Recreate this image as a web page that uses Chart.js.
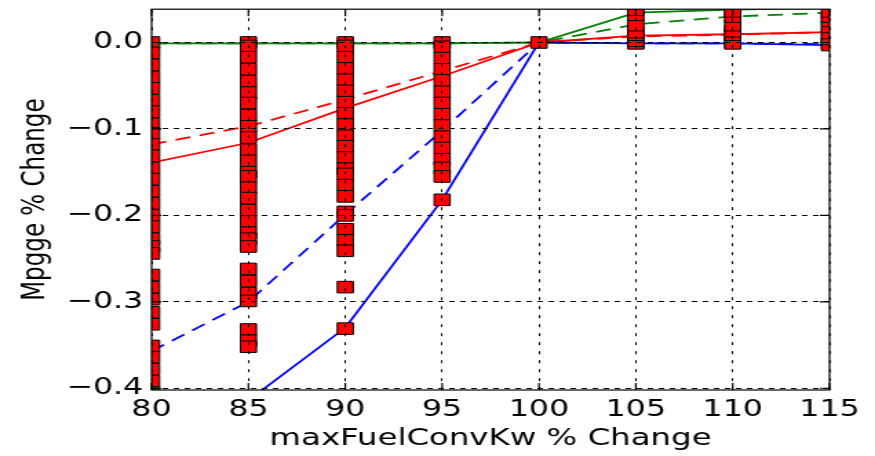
<!DOCTYPE html>
<html>
<head>
<meta charset="utf-8">
<script src="https://cdn.jsdelivr.net/npm/chart.js@4.4.0/dist/chart.umd.min.js"></script>
<style>
html,body{margin:0;padding:0;background:#fff;overflow:hidden;}
#wrap{width:635px;height:456px;transform:scaleX(1.37795);transform-origin:0 0;}
</style>
</head>
<body>
<div id="wrap"><canvas id="c" width="635" height="456"></canvas></div>
<script>
// ---- data ----
const xTickValues = [80, 85, 90, 95, 100, 105, 110, 115];
const yTickValues = [-0.4, -0.3, -0.2, -0.1, 0.0];

const lineX = [80, 85, 90, 95, 100, 105, 110, 115];
const blueSolid   = [-0.55, -0.414, -0.33, -0.182, 0.0, -0.001, -0.001, -0.003];
const blueDashed  = [-0.357, -0.30, -0.199, -0.102, 0.0, -0.001, -0.001, -0.002];
const redSolid    = [-0.139, -0.116, -0.076, -0.039, 0.0, 0.008, 0.0095, 0.012];
const redDashed   = [-0.118, -0.097, -0.066, -0.033, 0.0, 0.007, 0.009, 0.012];
const greenSolid  = [-0.001, -0.001, -0.001, -0.001, 0.0, 0.0345, 0.038, 0.040];
const greenDashed = [-0.001, -0.001, -0.001, -0.001, 0.0, 0.021, 0.030, 0.0345];

const markerX = [80, 85, 90, 95, 100, 105, 110, 115];
const m80 = [0.0, -0.012, -0.026, -0.04, -0.053, -0.067, -0.08, -0.094, -0.105, -0.118, -0.131,
             -0.145, -0.158, -0.172, -0.186, -0.2, -0.213, -0.227, -0.236, -0.244,
             -0.269, -0.283, -0.297, -0.312, -0.326,
             -0.351, -0.364, -0.378, -0.392, -0.405];
const m85 = [0.0, -0.004, -0.017, -0.031, -0.045, -0.058, -0.07, -0.084, -0.097, -0.11, -0.124,
             -0.137, -0.15, -0.155, -0.168, -0.18, -0.194, -0.207, -0.22, -0.227, -0.236,
             -0.262, -0.276, -0.29, -0.299, -0.332, -0.345, -0.352];
const m90 = [0.0, -0.004, -0.017, -0.03, -0.043, -0.056, -0.069, -0.082, -0.095, -0.108, -0.12,
             -0.133, -0.146, -0.152, -0.165, -0.178, -0.196, -0.2, -0.216, -0.229, -0.241,
             -0.283, -0.331];
const m95 = [0.0, -0.005, -0.018, -0.031, -0.044, -0.057, -0.07, -0.083, -0.096, -0.109, -0.122,
             -0.135, -0.145, -0.155, -0.182];
const m100 = [0.0];
const m105 = [0.0, -0.001, 0.002, 0.009, 0.012, 0.02, 0.032, 0.038];
const m110 = [0.0, -0.001, 0.009, 0.013, 0.02, 0.03, 0.036];
const m115 = [-0.001, -0.003, 0.004, 0.011, 0.018, 0.025, 0.03, 0.036];
const markerY = [m80, m85, m90, m95, m100, m105, m110, m115];

// ---- build ----
const toPts = (xs, ys) => xs.map((x, i) => ({x: x, y: ys[i]}));
const markerPts = [];
markerX.forEach((x, i) => markerY[i].forEach(y => markerPts.push({x: x, y: y})));

const lineDs = (label, ys, color, dash) => ({
  label: label,
  data: toPts(lineX, ys),
  showLine: true,
  borderColor: color,
  backgroundColor: color,
  borderWidth: 1.8,
  borderDash: dash,
  pointRadius: 0,
  pointHoverRadius: 0,
  clip: 0
});

const frameTicks = {
  id: 'frameTicks',
  afterDraw(chart) {
    const {ctx, chartArea: {left, right, top, bottom}, scales: {x, y}} = chart;
    ctx.save();
    ctx.strokeStyle = '#000';
    ctx.lineWidth = 1.2;
    ctx.strokeRect(left, top, right - left, bottom - top);
    const L = 7;
    ctx.beginPath();
    xTickValues.forEach(v => {
      const px = x.getPixelForValue(v);
      ctx.moveTo(px, bottom); ctx.lineTo(px, bottom - L);
      ctx.moveTo(px, top); ctx.lineTo(px, top + L);
    });
    yTickValues.forEach(v => {
      const py = y.getPixelForValue(v);
      ctx.moveTo(left, py); ctx.lineTo(left + L, py);
      ctx.moveTo(right, py); ctx.lineTo(right - L, py);
    });
    ctx.stroke();
    ctx.restore();
  }
};

const fmtY = v => (v < -1e-9 ? '\u2212' : '') + Math.abs(v).toFixed(1);

new Chart(document.getElementById('c'), {
  type: 'scatter',
  data: {
    datasets: [
      {
        label: 'runs',
        data: markerPts,
        showLine: false,
        pointStyle: 'rect',
        pointRadius: 8.2,
        pointHoverRadius: 8.2,
        pointBackgroundColor: '#ff0000',
        pointBorderColor: '#000000',
        pointBorderWidth: 1,
        clip: 0
      },
      lineDs('blue', blueSolid, '#0000ff', []),
      lineDs('blue dashed', blueDashed, '#0000ff', [11, 7]),
      lineDs('red', redSolid, '#ff0000', []),
      lineDs('red dashed', redDashed, '#ff0000', [11, 7]),
      lineDs('green', greenSolid, '#008000', []),
      lineDs('green dashed', greenDashed, '#008000', [11, 7])
    ]
  },
  options: {
    responsive: false,
    animation: false,
    devicePixelRatio: 1,
    events: [],
    layout: {padding: {top: 8, right: 33, left: 0, bottom: 0}},
    plugins: {legend: {display: false}, tooltip: {enabled: false}},
    scales: {
      x: {
        type: 'linear',
        min: 80, max: 115,
        afterBuildTicks: s => { s.ticks = xTickValues.map(v => ({value: v})); },
        afterFit: s => { s.height = 66; s.paddingLeft = 0; s.paddingRight = 0; },
        grid: {color: '#000', lineWidth: 1, drawTicks: false, z: 1},
        border: {display: false, dash: [3, 6]},
        ticks: {
          padding: 6, color: '#000', maxRotation: 0, autoSkip: false,
          font: {family: 'DejaVu Sans', size: 23},
          callback: v => String(v)
        },
        title: {
          display: true, text: 'maxFuelConvKw % Change', color: '#000',
          font: {family: 'DejaVu Sans', size: 23.5},
          padding: {top: 0, bottom: 3}
        }
      },
      y: {
        type: 'linear',
        min: -0.402, max: 0.0385,
        afterBuildTicks: s => { s.ticks = yTickValues.map(v => ({value: v})); },
        afterFit: s => { s.width = 110; s.paddingTop = 0; s.paddingBottom = 0; },
        grid: {color: '#000', lineWidth: 1, drawTicks: false, z: 1},
        border: {display: false, dash: [4, 4]},
        ticks: {
          padding: 6, color: '#000', autoSkip: false,
          font: {family: 'DejaVu Sans', size: 23},
          callback: v => fmtY(v)
        },
        title: {
          display: true, text: 'Mpgge % Change', color: '#000',
          font: {family: 'DejaVu Sans', size: 23},
          padding: {top: 12, bottom: 0}
        }
      }
    }
  },
  plugins: [frameTicks]
});
</script>
</body>
</html>
